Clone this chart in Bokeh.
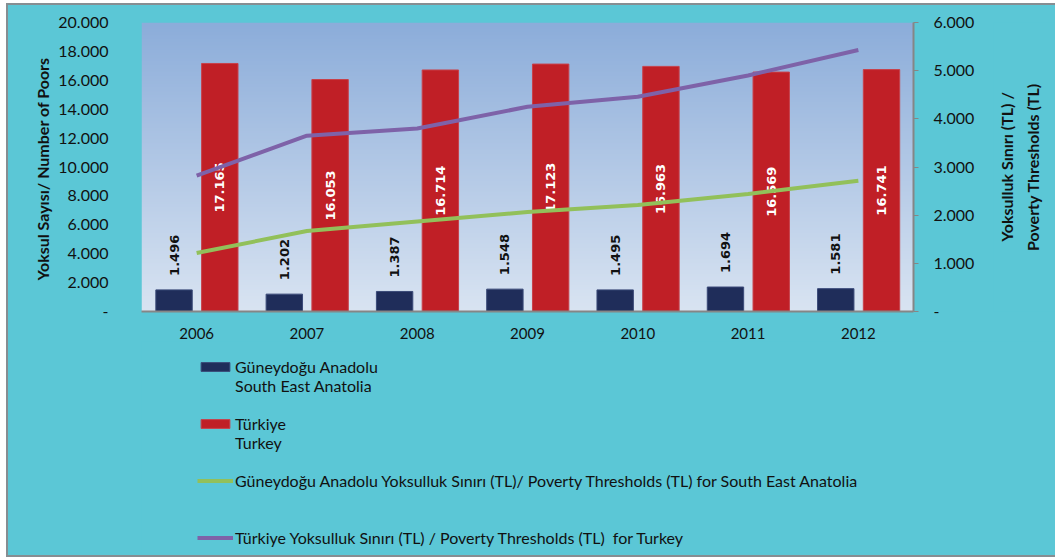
import numpy as np
from bokeh.plotting import figure
from bokeh.layouts import column, row
from bokeh.models import (Range1d, LinearAxis, ColumnDataSource, Legend, LegendItem,
                          FixedTicker)
from bokeh.core.properties import value
from bokeh.transform import dodge
from bokeh.embed import file_html
from bokeh.resources import INLINE

years = ["2006", "2007", "2008", "2009", "2010", "2011", "2012"]
poor_sea = [1496, 1202, 1387, 1548, 1495, 1694, 1581]
poor_tr = [17165, 16053, 16714, 17123, 16963, 16569, 16741]
thr_sea = [1215, 1670, 1870, 2065, 2210, 2440, 2715]
thr_tr = [2820, 3650, 3800, 4250, 4460, 4900, 5430]

left_ticks = [0, 2000, 4000, 6000, 8000, 10000, 12000, 14000, 16000, 18000, 20000]
right_ticks = [0, 1000, 2000, 3000, 4000, 5000, 6000]

left_title = "Yoksul Sayısı/  Number of Poors"
right_title = "Yoksulluk Sınırı (TL) /\nPoverty Thresholds (TL)"
lbl_sea = "Güneydoğu Anadolu\nSouth East Anatolia"
lbl_tr = "Türkiye\nTurkey"
lbl_thr_sea = "Güneydoğu Anadolu Yoksulluk Sınırı (TL)/ Poverty Thresholds (TL) for South East Anatolia"
lbl_thr_tr = "Türkiye Yoksulluk Sınırı (TL) / Poverty Thresholds (TL)  for Turkey"

NAVY = "#1f2d5a"
RED = "#c01f26"
GREEN = "#92c05a"
PURPLE = "#7e62a8"
CYAN = "#5bc7d6"
FONT = "Lato"


def fmt(v):
    return "-" if v == 0 else f"{v:,}".replace(",", ".")


xs = list(range(len(years)))
src = ColumnDataSource(dict(
    x=xs, sea=poor_sea, tr=poor_tr, tsea=thr_sea, ttr=thr_tr,
    sea_txt=[fmt(v) for v in poor_sea], tr_txt=[fmt(v) for v in poor_tr],
    tr_mid=[v / 2 for v in poor_tr],
))

p = figure(width=985, height=336,
           min_border_left=133, min_border_right=80,
           min_border_top=17, min_border_bottom=30,
           x_range=Range1d(-0.5, len(years) - 0.5), y_range=Range1d(0, 20000),
           output_backend="svg", toolbar_location=None,
           background_fill_color=CYAN, border_fill_color=CYAN)
p.outline_line_color = None
p.xgrid.grid_line_color = None
p.ygrid.grid_line_color = None

# plot-area gradient
top_rgb = np.array([0x8c, 0xad, 0xda])
bot_rgb = np.array([0xd9, 0xe4, 0xf2])
n = 200
t = np.linspace(0, 1, n)[:, None]
cols = (bot_rgb * (1 - t) + top_rgb * t).astype(np.uint32)
img = np.zeros((n, 1), dtype=np.uint32)
view = img.view(dtype=np.uint8).reshape((n, 1, 4))
view[:, 0, 0] = cols[:, 0]
view[:, 0, 1] = cols[:, 1]
view[:, 0, 2] = cols[:, 2]
view[:, 0, 3] = 255
p.image_rgba(image=[img], x=-0.5, y=0, dw=len(years), dh=20000)

p.extra_y_ranges = {"tl": Range1d(0, 6000)}

bar_sea = dict(fill_color=NAVY, line_color="#3a4a78", line_width=1)
bar_tr = dict(fill_color=RED, line_color="#c8404a", line_width=1)
ln_sea = dict(line_color=GREEN, line_width=4)
ln_tr = dict(line_color=PURPLE, line_width=4)

p.vbar(x=dodge("x", -0.205, range=p.x_range), top="sea", width=0.33, source=src, **bar_sea)
p.vbar(x=dodge("x", 0.21, range=p.x_range), top="tr", width=0.33, source=src, **bar_tr)

p.text(x=dodge("x", -0.205, range=p.x_range), y="sea", text="sea_txt", source=src,
       angle=np.pi / 2, text_align="left", text_baseline="middle", y_offset=-14,
       text_font=value("DejaVu Sans"), text_font_style="bold", text_font_size="13px",
       text_color="#111111")
p.text(x=dodge("x", 0.21, range=p.x_range), y="tr_mid", text="tr_txt", source=src,
       angle=np.pi / 2, text_align="center", text_baseline="middle",
       text_font=value("DejaVu Sans"), text_font_style="bold", text_font_size="13px",
       text_color="white")

p.line(x="x", y="tsea", source=src, y_range_name="tl", **ln_sea)
p.line(x="x", y="ttr", source=src, y_range_name="tl", **ln_tr)

# axes
p.yaxis.ticker = FixedTicker(ticks=left_ticks)
p.yaxis.major_label_overrides = {v: fmt(v) for v in left_ticks}
p.yaxis.axis_line_color = None
p.yaxis.major_tick_line_color = None
p.yaxis.minor_tick_line_color = None
p.yaxis.major_label_standoff = 27
p.yaxis.major_label_text_font = FONT
p.yaxis.major_label_text_font_size = "16px"
p.yaxis.major_label_text_color = "#111111"
p.yaxis.axis_label = left_title
p.yaxis.axis_label_text_font = FONT
p.yaxis.axis_label_text_font_style = "bold"
p.yaxis.axis_label_text_font_size = "16px"
p.yaxis.axis_label_standoff = 3
p.yaxis.axis_label_text_color = "#111111"

p.xaxis.ticker = FixedTicker(ticks=xs)
p.xaxis.major_label_overrides = {i: y for i, y in zip(xs, years)}
p.xaxis.axis_line_color = "#868686"
p.xaxis.axis_line_width = 2
p.xaxis.major_tick_line_color = None
p.xaxis.minor_tick_line_color = None
p.xaxis.major_label_standoff = 10
p.xaxis.major_label_text_font = FONT
p.xaxis.major_label_text_font_size = "15px"
p.xaxis.major_label_text_color = "#111111"

ra = LinearAxis(y_range_name="tl", ticker=FixedTicker(ticks=right_ticks))
ra.major_label_overrides = {v: fmt(v) for v in right_ticks}
ra.axis_line_color = "#868686"
ra.axis_line_width = 2
ra.major_tick_line_color = "#868686"
ra.major_tick_line_width = 1
ra.major_tick_out = 5
ra.major_tick_in = 0
ra.minor_tick_line_color = None
ra.major_label_standoff = 15
ra.major_label_text_font = FONT
ra.major_label_text_font_size = "16px"
ra.major_label_text_color = "#111111"
p.add_layout(ra, "right")

# right-hand axis title (reads bottom to top)
r = figure(width=62, height=336, min_border_left=0, min_border_right=0,
           min_border_top=0, min_border_bottom=0,
           x_range=Range1d(0, 62), y_range=Range1d(0, 1),
           x_axis_type=None, y_axis_type=None,
           output_backend="svg", toolbar_location=None,
           background_fill_color=CYAN, border_fill_color=CYAN)
r.outline_line_color = None
r.xgrid.grid_line_color = None
r.ygrid.grid_line_color = None
r.text(x=[26], y=[0.5], text=[right_title], angle=np.pi / 2,
       text_align="center", text_baseline="middle", text_line_height=1.35,
       text_font=value(FONT), text_font_style="bold", text_font_size="16px",
       text_color="#111111")

# legend figure (proxies drawn from the same data, far outside the visible range)
q = figure(width=1047, height=214, min_border_left=133, min_border_right=0,
           min_border_top=0, min_border_bottom=0,
           x_range=Range1d(1e6, 1e6 + 1), y_range=Range1d(1e6, 1e6 + 1),
           x_axis_type=None, y_axis_type=None,
           output_backend="svg", toolbar_location=None,
           background_fill_color=CYAN, border_fill_color=CYAN)
q.outline_line_color = None
q.xgrid.grid_line_color = None
q.ygrid.grid_line_color = None
g1 = q.vbar(x="x", top="sea", width=0.3, source=src, **bar_sea)
g2 = q.vbar(x="x", top="tr", width=0.3, source=src, **bar_tr)
g3 = q.line(x="x", y="tsea", source=src, **ln_sea)
g4 = q.line(x="x", y="ttr", source=src, **ln_tr)

legend = Legend(items=[
    LegendItem(label=" \n" + lbl_sea, renderers=[g1]),
    LegendItem(label=" \n" + lbl_tr, renderers=[g2]),
    LegendItem(label=" \n" + lbl_thr_sea + "\n ", renderers=[g3]),
    LegendItem(label=" \n" + lbl_thr_tr + "\n ", renderers=[g4]),
], location=(56, -11), orientation="vertical")
legend.padding = 0
legend.margin = 0
legend.spacing = 0
legend.label_height = 20
legend.glyph_width = 36
legend.glyph_height = 11
legend.label_standoff = 2
legend.label_text_font = FONT
legend.label_text_font_size = "16px"
legend.label_text_color = "#111111"
legend.border_line_color = None
legend.background_fill_alpha = 0
q.add_layout(legend, "center")

layout = column(row(p, r, spacing=0), q, spacing=0)
layout.styles = {"margin-left": "6px", "margin-top": "3px",
                 "border-left": "2px solid #868e92", "border-top": "2px solid #868e92",
                 "border-bottom": "2px solid #868e92", "background-color": CYAN}

open("out.html", "w").write(file_html(layout, INLINE))
